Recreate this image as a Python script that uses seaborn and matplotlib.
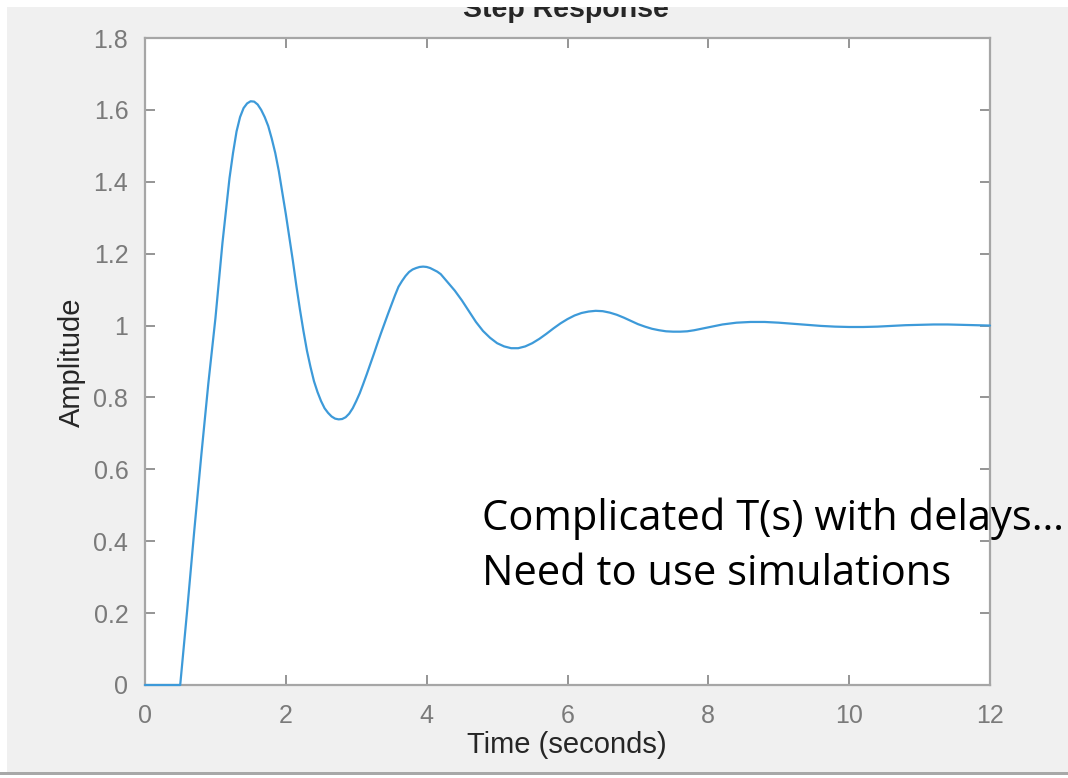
import matplotlib
matplotlib.use("Agg")
import matplotlib.pyplot as plt
from matplotlib.patches import Rectangle
import seaborn as sns
import pandas as pd

# Step response
time_s = [0.0, 0.5, 0.6, 0.7, 0.8, 0.9, 1.0, 1.1, 1.15, 1.2, 1.25, 1.3, 1.35, 1.4, 1.45,
          1.5, 1.55, 1.6, 1.65, 1.7, 1.75, 1.8, 1.85, 1.9, 1.95, 2.0, 2.05, 2.1, 2.15,
          2.2, 2.25, 2.3, 2.35, 2.4, 2.45, 2.5, 2.55, 2.6, 2.65, 2.7, 2.75, 2.8, 2.85,
          2.9, 2.95, 3.0, 3.05, 3.1, 3.15, 3.2, 3.25, 3.3, 3.35, 3.4, 3.45, 3.5, 3.55,
          3.6, 3.65, 3.7, 3.75, 3.8, 3.85, 3.9, 3.95, 4.0, 4.05, 4.1, 4.15, 4.2, 4.3,
          4.4, 4.5, 4.6, 4.7, 4.8, 4.9, 5.0, 5.1, 5.2, 5.3, 5.4, 5.5, 5.6, 5.7,
          5.8, 5.9, 6.0, 6.1, 6.2, 6.3, 6.4, 6.5, 6.6, 6.7, 6.8, 6.9, 7.0, 7.1,
          7.2, 7.3, 7.4, 7.5, 7.6, 7.7, 7.8, 7.9, 8.0, 8.2, 8.4, 8.6, 8.8, 9.0,
          9.2, 9.4, 9.6, 9.8, 10.0, 10.2, 10.4, 10.6, 10.8, 11.0, 11.2, 11.4, 11.6, 11.8, 12.0]
amplitude = [0.0, 0.0, 0.21, 0.43, 0.64, 0.84, 1.02, 1.23, 1.32, 1.41, 1.48, 1.54, 1.58, 1.605, 1.618,
             1.624, 1.623, 1.615, 1.60, 1.58, 1.555, 1.52, 1.48, 1.43, 1.37, 1.31, 1.245, 1.18, 1.11,
             1.045, 0.985, 0.93, 0.885, 0.845, 0.815, 0.79, 0.77, 0.757, 0.747, 0.741, 0.739, 0.74, 0.745,
             0.755, 0.77, 0.79, 0.812, 0.838, 0.865, 0.893, 0.921, 0.95, 0.978, 1.005, 1.032, 1.058, 1.084,
             1.108, 1.124, 1.138, 1.149, 1.156, 1.16, 1.163, 1.164, 1.163, 1.16, 1.155, 1.15, 1.143, 1.12,
             1.097, 1.07, 1.04, 1.01, 0.985, 0.966, 0.951, 0.942, 0.937, 0.937, 0.942, 0.951, 0.963, 0.977,
             0.992, 1.006, 1.018, 1.028, 1.035, 1.039, 1.041, 1.04, 1.036, 1.03, 1.022, 1.013, 1.004, 0.997,
             0.991, 0.987, 0.984, 0.983, 0.983, 0.984, 0.987, 0.991, 0.995, 1.003, 1.008, 1.01, 1.01, 1.008,
             1.005, 1.002, 0.999, 0.997, 0.996, 0.996, 0.997, 0.999, 1.001, 1.002, 1.003, 1.003, 1.002, 1.001, 1.0]

x_ticks = [0, 2, 4, 6, 8, 10, 12]
y_ticks = [0, 0.2, 0.4, 0.6, 0.8, 1.0, 1.2, 1.4, 1.6, 1.8]
y_tick_labels = ["0", "0.2", "0.4", "0.6", "0.8", "1", "1.2", "1.4", "1.6", "1.8"]

title = "Step Response"
x_label = "Time (seconds)"
y_label = "Amplitude"
note_lines = ["Complicated T(s) with delays\u2026", "Need to use simulations"]

sns.set_style("white")
plt.rcParams['font.family'] = ['Liberation Sans', 'DejaVu Sans']

W, H = 1068, 778
fig = plt.figure(figsize=(W / 100, H / 100), dpi=100)
fig.patch.set_facecolor("#f0f0f0")

L, R, T, B = 145, 990, 38, 685
ax = fig.add_axes([L / W, 1 - B / H, (R - L) / W, (B - T) / H])
ax.set_facecolor("white")

df = pd.DataFrame({"t": time_s, "y": amplitude})
sns.lineplot(data=df, x="t", y="y", ax=ax, color="#3d9ad9", linewidth=1.6,
             estimator=None, sort=False)
for ln in ax.lines:
    ln.set_clip_on(False)
    ln.set_zorder(5)

ax.set_xlim(0, 12)
ax.set_ylim(0, 1.8)
ax.set_xticks(x_ticks)
ax.set_xticklabels([str(v) for v in x_ticks])
ax.set_yticks(y_ticks)
ax.set_yticklabels(y_tick_labels)

spine_col = "#a6a6a6"
for s in ax.spines.values():
    s.set_visible(True)
    s.set_color(spine_col)
    s.set_linewidth(1.6)

ax.tick_params(axis="both", which="both", direction="in", length=7, width=1.3,
               color="#8c8c8c", labelcolor="#7a7a7a", labelsize=18,
               top=True, right=True, bottom=True, left=True)
ax.tick_params(axis="x", pad=14)
ax.tick_params(axis="y", pad=12)

ax.set_xlabel("")
ax.set_ylabel("")
fig.text(567 / W, 1 - 745 / H, x_label, ha="center", va="center",
         fontsize=21, color="#262626")
fig.text(72 / W, 1 - 362 / H, y_label, ha="center", va="center", rotation=90,
         fontsize=21, color="#262626")

fig.text(566 / W, 1 - 17 / H, title, ha="center", va="baseline",
         fontsize=20.5, fontweight="bold", color="#262626")

# annotation text
fig.text(482 / W, 1 - 530 / H, note_lines[0], ha="left", va="baseline",
         fontsize=30, family=["Open Sans", "DejaVu Sans"], color="black")
fig.text(482 / W, 1 - 585 / H, note_lines[1], ha="left", va="baseline",
         fontsize=30, family=["Open Sans", "DejaVu Sans"], color="black")

# screenshot framing strips
fig.add_artist(Rectangle((0, 1 - 7 / H), 1, 7 / H, transform=fig.transFigure,
                         facecolor="white", edgecolor="none", zorder=10))
fig.add_artist(Rectangle((0, 0), 7 / W, 1, transform=fig.transFigure,
                         facecolor="white", edgecolor="none", zorder=10))
fig.add_artist(Rectangle((0, 0), 1, 3 / H, transform=fig.transFigure,
                         facecolor="white", edgecolor="none", zorder=10))
fig.add_artist(Rectangle((0, 3 / H), 1, 3 / H, transform=fig.transFigure,
                         facecolor="#a8a8a8", edgecolor="none", zorder=10))

fig.savefig("out.png", dpi=100, facecolor=fig.get_facecolor())
